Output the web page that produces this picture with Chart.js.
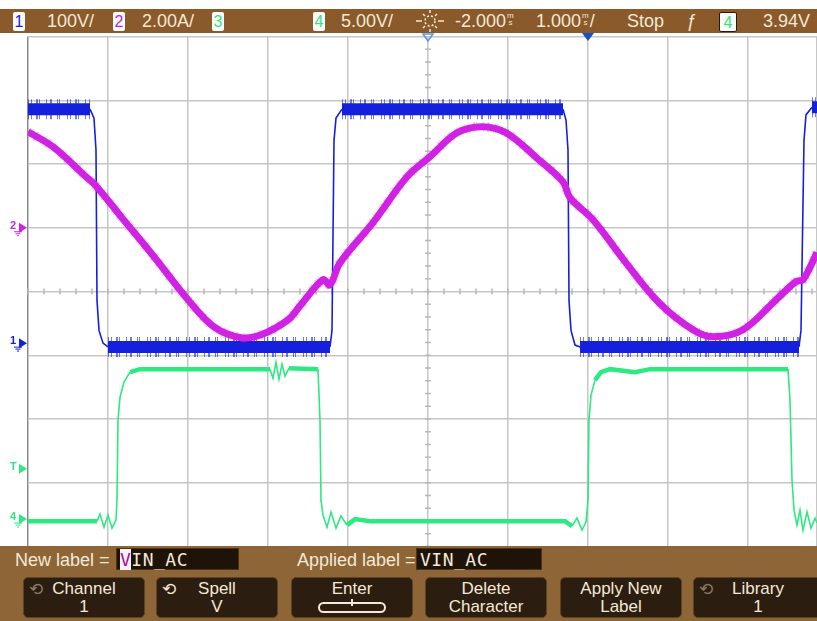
<!DOCTYPE html>
<html>
<head>
<meta charset="utf-8">
<title>Scope capture</title>
<script src="https://cdn.jsdelivr.net/npm/chart.js@4.4.1/dist/chart.umd.min.js"></script>
<style>
  body { margin: 0; width: 817px; height: 621px; overflow: hidden; position: relative; background: #fff;
         font-family: "Liberation Sans", Arial, sans-serif; }
  #bar { position: absolute; left: 0; top: 9px; width: 817px; height: 24px; background: #8a5a2b; color: #f3e9d6; font-size: 18px; }
  #bar > span { position: absolute; top: 2px; line-height: 20px; white-space: nowrap; }
  #bar > .box { top: 3px; width: 12px; height: 19px; background: #fcfcfc; text-align: center; font-size: 16px; line-height: 19px; border-radius: 2px; }
  .u { display: inline-block; font-size: 8px; line-height: 7px; vertical-align: 2px; text-align: center; margin: 0 1px; }
  #plot { position: absolute; left: 0; top: 33px; }
  #foot { position: absolute; left: 0; top: 546px; width: 817px; height: 75px; background: #8d6536; color: #f3e9d6; font-size: 18px; }
  #foot .lbl { position: absolute; top: 4px; line-height: 20px; }
  .field { position: absolute; top: 2px; height: 22px; background: #1d1309; border: 1px solid #4a3418; box-sizing: border-box;
           font-family: "DejaVu Sans Mono", monospace; font-size: 18px; line-height: 21px; padding-left: 3px; letter-spacing: 0.5px; }
  .cur { background: #f7f2f6; color: #b0109c; }
  .btn { position: absolute; top: 31px; width: 122px; height: 41px; box-sizing: border-box; background: #2b1d0f; border: 1px solid #5e4322;
         border-radius: 5px; text-align: center; font-size: 17px; line-height: 18px; padding-top: 2px; }
  .ic { position: absolute; left: 5px; top: 2px; font-style: normal; font-family: "DejaVu Sans", sans-serif; font-size: 17px; }
  .dim { color: #8b7a66; }
  .enter { display: inline-block; width: 64px; height: 7px; border: 2px solid #f3e9d6; border-radius: 6px; margin-top: 4px; position: relative; }
  .enter:after { content: ""; position: absolute; left: 31px; top: -5px; width: 2px; height: 7px; background: #f3e9d6; }
</style>
</head>
<body>
<div id="bar">
  <span class="box" style="left:13px;color:#1a22d8">1</span>
  <span style="left:47px">100V/</span>
  <span class="box" style="left:113px;color:#b624d6">2</span>
  <span style="left:142px">2.00A/</span>
  <span class="box" style="left:212px;color:#3ce07c">3</span>
  <span class="box" style="left:313px;color:#3ce07c">4</span>
  <span style="left:341px">5.00V/</span>
  <span style="left:415px;top:1px">
    <svg width="30" height="22" viewBox="0 0 30 22">
      <circle cx="15" cy="11" r="5" fill="none" stroke="#f3e9d6" stroke-width="1.5" stroke-dasharray="2 2"/>
      <g stroke="#f3e9d6" stroke-width="1.5">
        <line x1="1" y1="11" x2="7" y2="11"/><line x1="23" y1="11" x2="29" y2="11"/>
        <line x1="15" y1="0" x2="15" y2="3"/><line x1="15" y1="19" x2="15" y2="22"/>
        <line x1="8" y1="4" x2="10" y2="6"/><line x1="20" y1="16" x2="22" y2="18"/>
        <line x1="22" y1="4" x2="20" y2="6"/><line x1="8" y1="18" x2="10" y2="16"/>
      </g>
    </svg>
  </span>
  <span style="left:455px">-2.000<span class="u">m<br>s</span></span>
  <span style="left:536px">1.000<span class="u">m<br>s</span>/</span>
  <span style="left:627px">Stop</span>
  <span style="left:686px;font-style:italic">ƒ</span>
  <span class="box" style="left:719px;width:16px;height:18px;border:1px solid #2a1a0a;color:#3ce07c">4</span>
  <span style="left:763px">3.94V</span>
</div>

<canvas id="plot" width="817" height="514"></canvas>

<div id="foot">
  <span class="lbl" style="left:15px">New label =</span>
  <div class="field" style="left:116px;width:123px"><span class="cur">V</span>IN_AC</div>
  <span class="lbl" style="left:297px">Applied label =</span>
  <div class="field" style="left:416px;width:126px">VIN_AC</div>
  <div class="btn" style="left:23px"><i class="ic dim">⟲</i>Channel<br>1</div>
  <div class="btn" style="left:156px"><i class="ic">⟲</i>Spell<br>V</div>
  <div class="btn" style="left:291px">Enter<br><span class="enter"></span></div>
  <div class="btn" style="left:425px">Delete<br>Character</div>
  <div class="btn" style="left:560px">Apply New<br>Label</div>
  <div class="btn" style="left:693px;width:130px"><i class="ic dim">⟲</i>Library<br>1</div>
</div>

<script>
// time in ms (trigger = 0), screen is 10 div at 1.000 ms/div, centre delayed -2.000 ms
const timeLeft = -7;
const timeRight = 2.8625;   // visible part of the last division
const delayMs = -2;

// channel settings (ground position in divisions from centre)
const ch1PerDiv = 100, ch1Ground = -0.81;
const ch2PerDiv = 2, ch2Ground = 1.0;
const ch4PerDiv = 5, ch4Ground = -3.57;
const trigLevel = 3.94;

// ch1 (V) - square wave
const ch1Time = [-7.0, -6.225, -6.175, -6.15, -6.1375, -6.1125, -6.0625, -6.0, -3.225, -3.2, -3.175, -3.15, -3.075,
  -0.3125, -0.275, -0.25, -0.2375, -0.2125, -0.1625, -0.1, 2.6375, 2.6625, 2.7, 2.725, 2.8, 2.8625];
const ch1Volts = [367, 367, 353, 303, 67, 20, 0, -6, -6, 20, 318, 353, 367,
  367, 350, 303, 67, 20, -3, -6, -6, 20, 318, 358, 370, 370];

// ch2 (A) - line current
const ch2Time = [-7.0, -6.6875, -6.2625, -6.1625, -5.8375, -5.425, -5.0, -4.675, -4.3375, -4.0875, -3.75, -3.6,
  -3.3125, -3.225, -3.1, -2.6875, -2.2625, -1.975, -1.6375, -1.325, -1.025, -0.6125, -0.3125, -0.225, 0.0625,
  0.475, 0.8875, 1.3125, 1.5625, 1.9375, 2.35, 2.6, 2.6875, 2.8625];
const ch2Amps = [3.01, 2.54, 1.57, 1.35, 0.35, -0.91, -2.26, -3.11, -3.45, -3.36, -2.89, -2.45,
  -1.63, -1.79, -1.10, 0.16, 1.60, 2.23, 2.98, 3.17, 2.98, 2.13, 1.44, 0.94, 0.25,
  -1.10, -2.35, -3.20, -3.42, -3.20, -2.26, -1.69, -1.63, -0.78];

// ch4 (V) - gate drive
const ch4Time = [-7.0, -6.1375, -6.1, -6.05, -6.0, -5.95, -5.9, -5.8875, -5.875, -5.85, -5.8, -5.725, -5.6,
  -3.975, -3.9375, -3.9, -3.8625, -3.825, -3.7875, -3.7375, -3.375, -3.35, -3.3375, -3.3125,
  -3.2625, -3.2125, -3.15, -3.0875, -3.0125, -2.9125, -2.725, -0.2875, -0.2, -0.1375, -0.075, -0.025,
  0.0, 0.0125, 0.0375, 0.0875, 0.1625, 0.275, 0.5875, 0.775, 2.5, 2.525, 2.55, 2.575,
  2.6125, 2.65, 2.6875, 2.7375, 2.7875, 2.8375, 2.8625];
const ch4Volts = [-0.16, -0.16, 0.39, -0.63, 0.31, -0.71, -0.08, 1.49, 7.76, 9.56, 10.74, 11.52, 11.76,
  11.76, 11.05, 12.3, 10.98, 12.15, 11.21, 11.84, 11.76, 7.76, 1.49, 0.31,
  -0.63, 0.55, -0.71, 0.24, -0.47, 0, -0.16, -0.16, -0.55, 0.08, -0.86, -0.24,
  1.49, 7.76, 9.72, 10.9, 11.52, 11.76, 11.52, 11.76, 11.76, 9.33, 3.06, 0.71,
  -0.47, 0.71, -0.86, 0.55, -0.71, 0.08, -0.31];

const blue = '#1420dc', magenta = '#cf22e2', green = '#2ee882';
// irregular dash pattern used to suggest noise spikes on the flat parts
const spikeDash = [1, 2, 1, 4, 2, 1, 1, 6, 1, 3, 2, 5, 1, 1, 1, 7];

function pts(xs, ys) { return xs.map((x, i) => ({ x, y: ys[i] })); }
function range(perDiv, ground) { return { min: (-4 - ground) * perDiv, max: (4 - ground) * perDiv }; }

function isFlat(ctx, k) {
  return Math.abs(ctx.p1.y - ctx.p0.y) <= Math.abs(ctx.p1.x - ctx.p0.x) * k;
}
// flat parts of a trace are thick (noise band), edges are thin
function segWidth(thick, thin, k) {
  return ctx => isFlat(ctx, k) ? thick : thin;
}

function trace(label, data, axis, color, width, order, extra) {
  return Object.assign({
    label, data, yAxisID: axis, borderColor: color, borderWidth: width,
    pointRadius: 0, tension: 0, order, borderCapStyle: 'butt'
  }, extra || {});
}

const r1 = range(ch1PerDiv, ch1Ground), r2 = range(ch2PerDiv, ch2Ground), r4 = range(ch4PerDiv, ch4Ground);

const scopePlugin = {
  id: 'scope',
  beforeDatasetsDraw(chart) {
    const { ctx, scales } = chart;
    const cx = scales.x.getPixelForValue(delayMs), cy = scales.y.getPixelForValue(0);
    ctx.save();
    ctx.strokeStyle = '#b8b8b8';
    ctx.lineWidth = 1.5;
    ctx.beginPath();
    for (let v = timeLeft; v <= timeRight; v += 0.2) {
      const px = scales.x.getPixelForValue(v);
      ctx.moveTo(px, cy - 3); ctx.lineTo(px, cy + 3);
    }
    for (let v = -4; v <= 4; v += 0.2) {
      const py = scales.y.getPixelForValue(v);
      ctx.moveTo(cx - 3, py); ctx.lineTo(cx + 3, py);
    }
    ctx.stroke();
    ctx.restore();
  },
  afterDraw(chart) {
    const { ctx, scales } = chart;
    const marks = [
      ['2', magenta, scales.y2.getPixelForValue(0), true],
      ['1', blue, scales.y1.getPixelForValue(0), true],
      ['T', green, scales.y4.getPixelForValue(trigLevel), false],
      ['4', green, scales.y4.getPixelForValue(0), true]
    ];
    ctx.save();
    ctx.font = 'bold 11px "Liberation Sans", sans-serif';
    ctx.textBaseline = 'middle';
    for (const [txt, col, y, gnd] of marks) {
      ctx.fillStyle = col;
      ctx.strokeStyle = col;
      ctx.fillText(txt, 10, y - 2);
      ctx.beginPath();
      ctx.moveTo(19, y - 5); ctx.lineTo(27, y); ctx.lineTo(19, y + 5); ctx.closePath();
      ctx.fill();
      if (gnd) {
        ctx.lineWidth = 1;
        ctx.beginPath();
        ctx.moveTo(14, y + 4); ctx.lineTo(22, y + 4);
        ctx.moveTo(15.5, y + 6); ctx.lineTo(20.5, y + 6);
        ctx.moveTo(17, y + 8); ctx.lineTo(19, y + 8);
        ctx.stroke();
      }
    }
    // delay reference (hollow) and trigger point (solid) markers
    const dx = scales.x.getPixelForValue(delayMs), tx = scales.x.getPixelForValue(0);
    ctx.lineWidth = 1.5;
    ctx.strokeStyle = '#5f95dd';
    ctx.beginPath();
    ctx.moveTo(dx - 5, 1); ctx.lineTo(dx + 5, 1); ctx.lineTo(dx, 8); ctx.closePath();
    ctx.stroke();
    ctx.fillStyle = '#1b4fc4';
    ctx.beginPath();
    ctx.moveTo(tx - 6, 0); ctx.lineTo(tx + 6, 0); ctx.lineTo(tx, 8); ctx.closePath();
    ctx.fill();
    ctx.restore();
  }
};

new Chart(document.getElementById('plot'), {
  type: 'line',
  data: {
    datasets: [
      trace('ch4', pts(ch4Time, ch4Volts), 'y4', green, 4.5, 0, { segment: { borderWidth: segWidth(4.5, 1.6, 1.5) } }),
      trace('ch2', pts(ch2Time, ch2Amps), 'y2', magenta, 7, 2, { tension: 0.35, borderJoinStyle: 'round' }),
      trace('ch2 noise', pts(ch2Time, ch2Amps), 'y2', 'rgba(207,34,226,0.3)', 10, 3, { tension: 0.35, borderDash: spikeDash }),
      trace('ch1', pts(ch1Time, ch1Volts), 'y1', blue, 12, 4, { segment: { borderWidth: segWidth(12, 1.6, 0.3) } }),
      trace('ch1 noise', pts(ch1Time, ch1Volts), 'y1', blue, 20, 5, {
        borderDash: spikeDash,
        segment: {
          borderWidth: segWidth(20, 1, 0.3),
          borderColor: ctx => isFlat(ctx, 0.3) ? 'rgba(20,32,220,0.6)' : 'rgba(0,0,0,0)'
        }
      })
    ]
  },
  options: {
    responsive: false,
    animation: false,
    events: [],
    layout: { padding: { left: 28, right: 0, top: 3.5, bottom: 0.5 }, autoPadding: false },
    plugins: { legend: { display: false }, tooltip: { enabled: false } },
    scales: {
      x: {
        type: 'linear', min: timeLeft, max: timeRight,
        ticks: { display: false, stepSize: 1 },
        border: { display: false },
        grid: { drawTicks: false, lineWidth: 1.5, color: c => c.tick && c.tick.value === timeLeft ? '#8a8a8a' : '#c6c6c6' }
      },
      y: {
        min: -4, max: 4,
        ticks: { display: false, stepSize: 1 },
        border: { display: false },
        grid: { drawTicks: false, lineWidth: 1.5, color: '#c6c6c6' }
      },
      y1: { display: false, min: r1.min, max: r1.max },
      y2: { display: false, min: r2.min, max: r2.max },
      y4: { display: false, min: r4.min, max: r4.max }
    }
  },
  plugins: [scopePlugin]
});
</script>
</body>
</html>
